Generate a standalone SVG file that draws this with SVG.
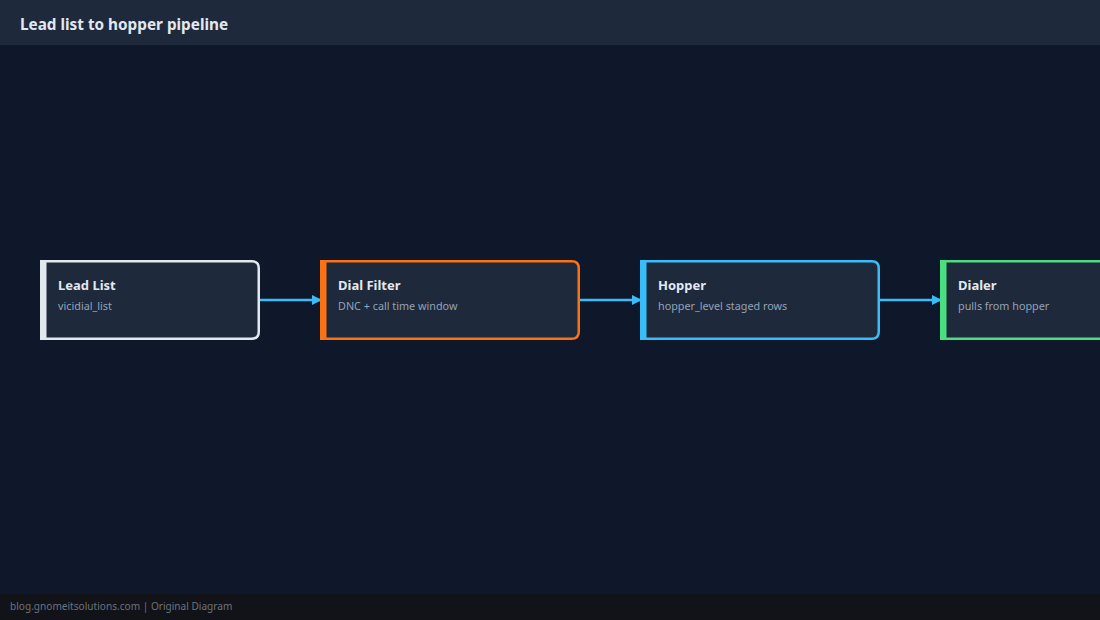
<svg xmlns="http://www.w3.org/2000/svg" width="1100" height="620" viewBox="0 0 1100 620">
<defs>
<style>
.title{font-family:"Noto Sans","Open Sans","DejaVu Sans",sans-serif;font-weight:700;font-size:15.3px;fill:#e2e8f0}
.nt{font-family:"Noto Sans","Open Sans","DejaVu Sans",sans-serif;font-weight:700;font-size:13px;fill:#e2e8f0}
.ns{font-family:"Noto Sans","Open Sans","DejaVu Sans",sans-serif;font-size:10.8px;fill:#94a3b8}
.foot{font-family:"Noto Sans","Open Sans","DejaVu Sans",sans-serif;font-size:10.1px;fill:#6b7280}
.box{fill:#1e293b;stroke-width:2.5}
.conn{stroke:#38bdf8;stroke-width:2.5;fill:none}
</style>
<marker id="ah" viewBox="0 0 10 10" refX="9" refY="5" markerWidth="10" markerHeight="10" markerUnits="userSpaceOnUse" orient="auto">
<path d="M0,0 L10,5 L0,10 Z" fill="#38bdf8"/>
</marker>
</defs>
<rect x="0" y="0" width="1100" height="620" fill="#0f172a"/>
<rect x="0" y="0" width="1100" height="45" fill="#1e293b"/>
<text class="title" x="20" y="30">Lead list to hopper pipeline</text>

<g id="connectors">
<line class="conn" x1="260" y1="300" x2="321" y2="300" marker-end="url(#ah)"/>
<line class="conn" x1="580" y1="300" x2="641" y2="300" marker-end="url(#ah)"/>
<line class="conn" x1="880" y1="300" x2="941" y2="300" marker-end="url(#ah)"/>
</g>

<g id="node-lead-list">
<path class="box" stroke="#e2e8f0" d="M41.25,261.25 H251.75 Q258.75,261.25 258.75,268.25 V331.75 Q258.75,338.75 251.75,338.75 H41.25 Z"/>
<rect x="40" y="260" width="6.5" height="80" fill="#e2e8f0"/>
<text class="nt" x="58" y="290">Lead List</text>
<text class="ns" x="58" y="310">vicidial_list</text>
</g>

<g id="node-dial-filter">
<path class="box" stroke="#f97316" d="M321.25,261.25 H571.75 Q578.75,261.25 578.75,268.25 V331.75 Q578.75,338.75 571.75,338.75 H321.25 Z"/>
<rect x="320" y="260" width="6.5" height="80" fill="#f97316"/>
<text class="nt" x="338" y="290">Dial Filter</text>
<text class="ns" x="338" y="310">DNC + call time window</text>
</g>

<g id="node-hopper">
<path class="box" stroke="#38bdf8" d="M641.25,261.25 H871.75 Q878.75,261.25 878.75,268.25 V331.75 Q878.75,338.75 871.75,338.75 H641.25 Z"/>
<rect x="640" y="260" width="6.5" height="80" fill="#38bdf8"/>
<text class="nt" x="658" y="290">Hopper</text>
<text class="ns" x="658" y="310">hopper_level staged rows</text>
</g>

<g id="node-dialer">
<path class="box" stroke="#4ade80" d="M941.25,261.25 H1171.75 Q1178.75,261.25 1178.75,268.25 V331.75 Q1178.75,338.75 1171.75,338.75 H941.25 Z"/>
<rect x="940" y="260" width="6.5" height="80" fill="#4ade80"/>
<text class="nt" x="958" y="290">Dialer</text>
<text class="ns" x="958" y="310">pulls from hopper</text>
</g>

<rect x="0" y="594" width="1100" height="26" fill="#111318"/>
<text class="foot" x="10" y="610">blog.gnomeitsolutions.com | Original Diagram</text>
</svg>
